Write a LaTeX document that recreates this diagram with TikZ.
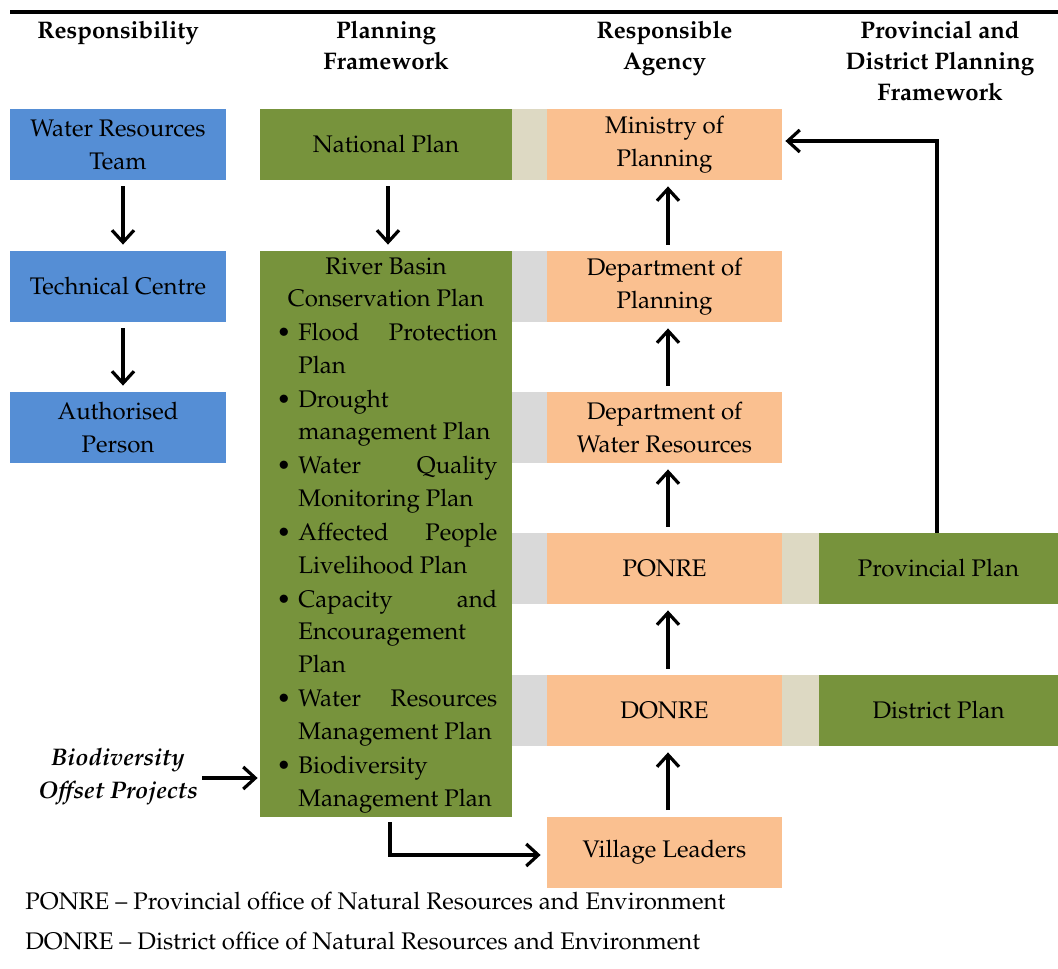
\documentclass[tikz,border=0pt]{standalone}
\usepackage[T1]{fontenc}
\usepackage{mathpazo}
\usetikzlibrary{arrows.meta}
\definecolor{cblue}{HTML}{558ED5}
\definecolor{cgreen}{HTML}{77933C}
\definecolor{corange}{HTML}{FAC090}
\definecolor{cgray}{HTML}{D9D9D9}
\definecolor{cbeige}{HTML}{DDD9C3}
\newcommand\bodyfnt{\fontsize{12}{16.5}\selectfont}
\newcommand\headfnt{\fontsize{12}{15.5}\selectfont\bfseries}
\tikzset{
  txt/.style={inner sep=0, font=\bodyfnt},
  hdr/.style={inner sep=0, align=center, font=\headfnt},
  rbox/.style={inner sep=0, minimum height=35.5pt, align=center, font=\bodyfnt},
  bluebox/.style={rbox, fill=cblue, minimum width=108pt},
  greenbox/.style={rbox, fill=cgreen, minimum width=126pt},
  orangebox/.style={rbox, fill=corange, minimum width=117.5pt},
  lstrip/.style={rbox, minimum width=17.5pt},
  rstrip/.style={rbox, fill=cbeige, minimum width=18.5pt},
  rgreen/.style={rbox, fill=cgreen, minimum width=119.5pt},
  arr/.style={line width=1.6pt, -{Straight Barb[length=6pt,width=11pt]}},
}
\begin{document}
\begin{tikzpicture}[x=0.5pt,y=-0.5pt]
\useasboundingbox (0,0) rectangle (1058,968);
% top rule
\draw[line width=2pt] (10,12) -- (1058,12);
% headers
\node[hdr] (h1) at (118,32.5) {Responsibility};
\node[hdr] (h2) at (386,45.5) {Planning\\Framework};
\node[hdr] (h3) at (664.5,48) {Responsible\\Agency};
\node[hdr] (h4) at (940,61) {Provincial and\\District Planning\\Framework};
% blue column
\node[bluebox] (wrt) at (118,144.5) {Water Resources\\Team};
\node[bluebox] (tc) at (118,286.5) {Technical Centre};
\node[bluebox] (ap) at (118,427.5) {Authorised\\Person};
% planning framework
\node[greenbox] (np) at (386,144.5) {National Plan};
\node[inner sep=0, fill=cgreen, minimum width=126pt, minimum height=283pt] (rb) at (386,534) {};
% agency column
\node[lstrip, fill=cbeige] (s1) at (529.5,144.5) {};
\node[orangebox] (min) at (664.5,144.5) {Ministry of\\Planning};
\node[lstrip, fill=cgray] (s2) at (529.5,286.5) {};
\node[orangebox] (dp) at (664.5,286.5) {Department of\\Planning};
\node[lstrip, fill=cgray] (s3) at (529.5,427.5) {};
\node[orangebox] (dwr) at (664.5,427.5) {Department of\\Water Resources};
\node[lstrip, fill=cgray] (s4) at (529.5,568.5) {};
\node[orangebox] (ponre) at (664.5,568.5) {PONRE};
\node[rstrip] (r4) at (800.5,568.5) {};
\node[rgreen] (prov) at (938.5,568.5) {Provincial Plan};
\node[lstrip, fill=cgray] (s5) at (529.5,710.5) {};
\node[orangebox] (donre) at (664.5,710.5) {DONRE};
\node[rstrip] (r5) at (800.5,710.5) {};
\node[rgreen] (dist) at (938.5,710.5) {District Plan};
\node[orangebox] (vl) at (664.5,852) {Village Leaders};
% river basin text
\node[txt, anchor=base] (g1) at (386,274.5) {River Basin};
\node[txt, anchor=base] (g2) at (386,306.5) {Conservation Plan};
\node[txt, anchor=base] (k3) at (284,340.5) {\textbullet};
\node[txt, anchor=base west] (g3) at (298,340.5) {\makebox[99.5pt]{Flood\hfill Protection}};
\node[txt, anchor=base west] (g4) at (298,373.5) {Plan};
\node[txt, anchor=base] (k5) at (284,407.5) {\textbullet};
\node[txt, anchor=base west] (g5) at (298,407.5) {Drought};
\node[txt, anchor=base west] (g6) at (298,439.5) {management Plan};
\node[txt, anchor=base] (k7) at (284,473.5) {\textbullet};
\node[txt, anchor=base west] (g7) at (298,473.5) {\makebox[99.5pt]{Water\hfill Quality}};
\node[txt, anchor=base west] (g8) at (298,506.5) {Monitoring Plan};
\node[txt, anchor=base] (k9) at (284,540.5) {\textbullet};
\node[txt, anchor=base west] (g9) at (298,540.5) {\makebox[99.5pt]{Affected\hfill People}};
\node[txt, anchor=base west] (g10) at (298,573.5) {Livelihood Plan};
\node[txt, anchor=base] (k11) at (284,607.5) {\textbullet};
\node[txt, anchor=base west] (g11) at (298,607.5) {\makebox[99.5pt]{Capacity\hfill and}};
\node[txt, anchor=base west] (g12) at (298,639.5) {Encouragement};
\node[txt, anchor=base west] (g13) at (298,672.5) {Plan};
\node[txt, anchor=base] (k14) at (284,706.5) {\textbullet};
\node[txt, anchor=base west] (g14) at (298,706.5) {\makebox[99.5pt]{Water\hfill Resources}};
\node[txt, anchor=base west] (g15) at (298,739.5) {Management Plan};
\node[txt, anchor=base] (k16) at (284,773.5) {\textbullet};
\node[txt, anchor=base west] (g16) at (298,773.5) {Biodiversity};
\node[txt, anchor=base west] (g17) at (298,806.5) {Management Plan};
% biodiversity offset
\node[txt, align=center, font=\bodyfnt\bfseries\itshape] (bio) at (118,777) {Biodiversity\\Offset Projects};
% footnotes
\node[txt, anchor=base west] (f1) at (25,909) {PONRE -- Provincial office of Natural Resources and Environment};
\node[txt, anchor=base west] (f2) at (25,949) {DONRE -- District office of Natural Resources and Environment};
% arrows
\draw[arr, shorten <=3pt, shorten >=3pt] ([xshift=2.5pt]wrt.south) -- ([xshift=2.5pt]tc.north);
\draw[arr, shorten <=3pt, shorten >=3pt] ([xshift=2.5pt]tc.south) -- ([xshift=2.5pt]ap.north);
\draw[arr, shorten <=3pt, shorten >=3pt] ([xshift=1pt]np.south) -- ([xshift=1pt]rb.north);
\draw[arr, shorten <=3pt, shorten >=3pt] ([xshift=1.75pt]vl.north) -- ([xshift=1.75pt]donre.south);
\draw[arr, shorten <=3pt, shorten >=3pt] ([xshift=1.75pt]donre.north) -- ([xshift=1.75pt]ponre.south);
\draw[arr, shorten <=3pt, shorten >=3pt] ([xshift=1.75pt]ponre.north) -- ([xshift=1.75pt]dwr.south);
\draw[arr, shorten <=3pt, shorten >=3pt] ([xshift=1.75pt]dwr.north) -- ([xshift=1.75pt]dp.south);
\draw[arr, shorten <=3pt, shorten >=3pt] ([xshift=1.75pt]dp.north) -- ([xshift=1.75pt]min.south);
\draw[arr, shorten >=1.5pt] ([xshift=-0.75pt]prov.north) |- ([yshift=1.75pt]min.east);
\draw[arr, shorten <=2pt, shorten >=1pt] ([yshift=-0.5pt]bio.east) -- ([yshift=-0.5pt]bio.east -| rb.west);
\draw[arr, shorten <=2.5pt, shorten >=3pt] ([xshift=2pt]rb.south) |- ([yshift=-1.5pt]vl.west);
\end{tikzpicture}
\end{document}
